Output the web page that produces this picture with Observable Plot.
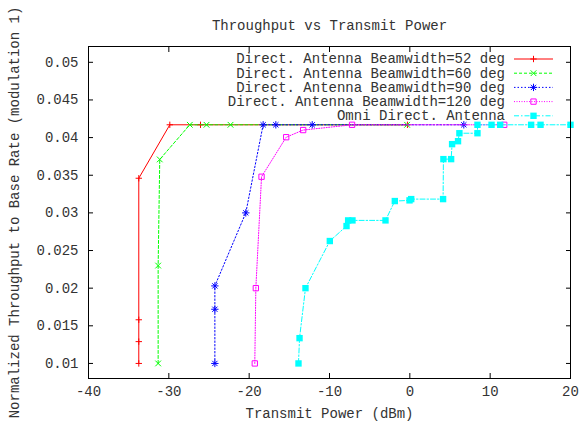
<!DOCTYPE html>
<html><head><meta charset="utf-8">
<script src="https://cdn.jsdelivr.net/npm/d3@7"></script>
<script src="https://cdn.jsdelivr.net/npm/@observablehq/plot@0.6"></script>
<style>body{margin:0;background:#fff} svg{display:block}</style>
</head><body><div id="chart"></div>
<script>
const title = "Throughput vs Transmit Power";
const xLabel = "Transmit Power (dBm)";
const yLabel = "Normalized Throughput to Base Rate (modulation 1)";
const seriesNames = [
  "Direct. Antenna Beamwidth=52 deg",
  "Direct. Antenna Beamwidth=60 deg",
  "Direct. Antenna Beamwidth=90 deg",
  "Direct. Antenna Beamwidth=120 deg",
  "Omni Direct. Antenna"
];
const x52 = [-33.74, -33.74, -33.74, -33.74, -29.88, -26.06, -0.3];
const y52 = [0.01, 0.0129, 0.0158, 0.0346, 0.0417, 0.0417, 0.0417];
const x60 = [-31.33, -31.33, -31.13, -27.39, -25.31, -22.32, -0.34];
const y60 = [0.01, 0.0230, 0.0371, 0.0417, 0.0417, 0.0417, 0.0417];
const x90 = [-24.27, -24.27, -24.27, -20.42, -18.26, -16.68, -12.15, 6.72];
const y90 = [0.01, 0.0172, 0.0203, 0.0300, 0.0417, 0.0417, 0.0417, 0.0417];
const x120 = [-19.3, -19.17, -18.46, -15.39, -13.28, -7.19, 11.75];
const y120 = [0.01, 0.0200, 0.0348, 0.04005, 0.0410, 0.0417, 0.0417];
const xOmni = [-13.86, -13.73, -12.99, -9.96, -7.88, -7.68, -7.14, -3.03, -1.87, -0.04, 0.17, 4.14, 4.18, 5.14, 5.26, 6.0, 6.17, 8.42, 8.42, 10.17, 11.25, 15.1, 16.27, 20.0];
const yOmni = [0.01, 0.01336, 0.0200, 0.02626, 0.02825, 0.0290, 0.0290, 0.0290, 0.03157, 0.03166, 0.03183, 0.03183, 0.03714, 0.03714, 0.03913, 0.03952, 0.04058, 0.04058, 0.0417, 0.0417, 0.0417, 0.0417, 0.0417, 0.0417];

const xTicks = [-40, -30, -20, -10, 0, 10, 20];
const xTickLabels = ["-40", "-30", "-20", "-10", "0", "10", "20"];
const yTicks = [0.01, 0.015, 0.02, 0.025, 0.03, 0.035, 0.04, 0.045, 0.05];
const yTickLabels = ["0.01", "0.015", "0.02", "0.025", "0.03", "0.035", "0.04", "0.045", "0.05"];

const colors = ["#ff0000", "#00ff00", "#0000ff", "#ff00ff", "#00ffff"];
const dashes = [null, "3,2", "1.5,2", "1,1.5", "5,2,1.5,2"];
const symbols = [["plus"], ["times"], ["plus", "times"], ["square"], ["square"]];
const symbolR = [2.2, 2.7, 2.5, 3.0, 3.6];
const symbolFilled = [false, false, false, false, true];

const xs = [x52, x60, x90, x120, xOmni];
const ys = [y52, y60, y90, y120, yOmni];
const series = seriesNames.map((name, i) => ({
  name, color: colors[i], dash: dashes[i], symbols: symbols[i], r: symbolR[i], filled: symbolFilled[i],
  rows: xs[i].map((x, j) => ({x, y: ys[i][j]}))
}));

const marks = [];
for (const s of series) {
  marks.push(Plot.line(s.rows, {x: "x", y: "y", stroke: s.color, strokeWidth: 1, strokeDasharray: s.dash}));
  for (const sym of s.symbols) {
    marks.push(Plot.dot(s.rows, s.filled
      ? {x: "x", y: "y", symbol: sym, r: s.r, fill: s.color, stroke: null}
      : {x: "x", y: "y", symbol: sym, r: s.r, stroke: s.color, strokeWidth: 1, fill: "none"}));
  }
}

const fmtX = d => xTickLabels[xTicks.indexOf(d)];
const fmtY = d => yTickLabels[yTicks.indexOf(d)];
const textColor = "#333";

const chart = Plot.plot({
  width: 583, height: 421,
  marginLeft: 88, marginRight: 13, marginTop: 46, marginBottom: 43,
  style: {fontFamily: "'Liberation Mono', monospace", fontSize: "14px", color: textColor, background: "#fff", overflow: "visible"},
  x: {domain: [-40, 20]},
  y: {domain: [0.008, 0.0521]},
  marks: [
    Plot.axisX({ticks: xTicks, tickFormat: fmtX, tickSize: -5, tickPadding: 13, label: null, stroke: "#000", fill: textColor}),
    Plot.axisX({anchor: "top", ticks: xTicks, tickFormat: () => "", tickSize: -5, label: null, stroke: "#000"}),
    Plot.axisY({ticks: yTicks, tickFormat: fmtY, tickSize: -5, tickPadding: 15, label: null, stroke: "#000", fill: textColor}),
    Plot.axisY({anchor: "right", ticks: yTicks, tickFormat: () => "", tickSize: -5, label: null, stroke: "#000"}),
    ...marks,
    Plot.frame({stroke: "#000"}),
    Plot.text([title], {frameAnchor: "top", dy: -20.5, lineAnchor: "middle", fill: textColor}),
    Plot.text([xLabel], {frameAnchor: "bottom", dy: 35, lineAnchor: "middle", fill: textColor}),
    Plot.text([yLabel], {frameAnchor: "left", dx: -74, rotate: -90, textAnchor: "middle", lineAnchor: "middle", fill: textColor})
  ]
});
document.getElementById("chart").appendChild(chart);

// legend (inside top-right of frame)
const svg = d3.select(chart);
const frameRight = 583 - 13, frameTop = 46;
const lg = svg.append("g").attr("font-family", "'Liberation Mono', monospace").attr("font-size", 14);
const symMap = {plus: d3.symbolPlus, times: d3.symbolTimes, square: d3.symbolSquare};
series.forEach((s, i) => {
  const yy = frameTop + 13 + i * 14.2;
  lg.append("text").attr("x", frameRight - 65).attr("y", yy).attr("dy", "0.32em")
    .attr("text-anchor", "end").attr("fill", textColor).text(s.name);
  lg.append("line").attr("x1", frameRight - 56).attr("x2", frameRight - 17).attr("y1", yy).attr("y2", yy)
    .attr("stroke", s.color).attr("stroke-width", 1).attr("stroke-dasharray", s.dash);
  for (const sym of s.symbols) {
    const p = lg.append("path").attr("transform", `translate(${frameRight - 36.5},${yy})`)
      .attr("d", d3.symbol(symMap[sym], s.r * s.r * Math.PI)());
    if (s.filled) p.attr("fill", s.color);
    else p.attr("fill", "none").attr("stroke", s.color).attr("stroke-width", 1);
  }
});
</script></body></html>
